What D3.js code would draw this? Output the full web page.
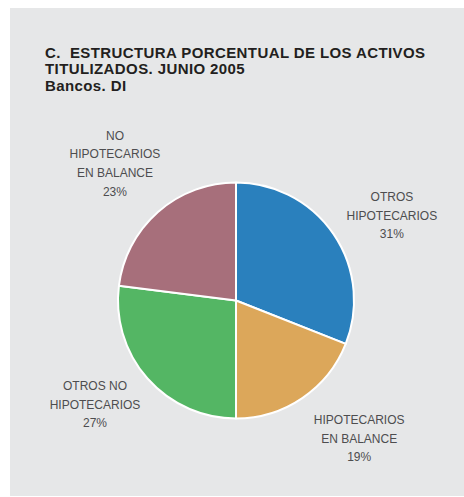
<!DOCTYPE html>
<html>
<head>
<meta charset="utf-8">
<script src="https://cdn.jsdelivr.net/npm/d3@7"></script>
<style>
  body { margin: 0; background: #fff; }
  svg { display: block; font-family: "Liberation Sans", Arial, sans-serif; }
</style>
</head>
<body>
<svg></svg>
<script>
const categories = ["OTROS HIPOTECARIOS", "HIPOTECARIOS EN BALANCE", "OTROS NO HIPOTECARIOS", "NO HIPOTECARIOS EN BALANCE"];
const labelLines = [
  ["OTROS", "HIPOTECARIOS"],
  ["HIPOTECARIOS", "EN BALANCE"],
  ["OTROS NO", "HIPOTECARIOS"],
  ["NO", "HIPOTECARIOS", "EN BALANCE"]
];
const values = [31, 19, 27, 23];
const colors = ["#2a80bd", "#dca75a", "#54b664", "#a76f7b"];
const titleLines = ["C.  ESTRUCTURA PORCENTUAL DE LOS ACTIVOS", "TITULIZADOS. JUNIO 2005", "Bancos. DI"];

const width = 464;
const height = 497;
const cx = 236, cy = 300.5;
const radius = 118;
const labelRadius = 180;
const lineHeight = 18.6;
// hand nudges so labels sit where the original placed them
const nudge = [[7, 16], [22, -11], [-6, -15], [-2, -2]];

const svg = d3.select("svg")
    .attr("width", width)
    .attr("height", height);

svg.append("rect")
    .attr("x", 10)
    .attr("y", 8)
    .attr("width", width - 10)
    .attr("height", height - 9)
    .attr("fill", "#e6e7e8");

svg.append("g")
    .selectAll("text")
    .data(titleLines)
    .enter()
    .append("text")
    .attr("x", 45)
    .attr("y", (d, i) => 57.5 + i * 16.6)
    .attr("font-size", 15)
    .attr("font-weight", "bold")
    .attr("letter-spacing", 0.4)
    .attr("fill", "#231f20")
    .style("white-space", "pre")
    .text(d => d);

const data = categories.map((c, i) => ({name: c, value: values[i], lines: labelLines[i], color: colors[i]}));

const pie = d3.pie()
    .sort(null)
    .value(d => d.value);

const arc = d3.arc()
    .innerRadius(0)
    .outerRadius(radius);

const labelArc = d3.arc()
    .innerRadius(labelRadius)
    .outerRadius(labelRadius);

const arcs = pie(data);

const g = svg.append("g")
    .attr("transform", `translate(${cx}, ${cy})`);

g.selectAll("path")
    .data(arcs)
    .enter()
    .append("path")
    .attr("d", arc)
    .attr("fill", d => d.data.color)
    .attr("stroke", "#fff")
    .attr("stroke-width", 2)
    .attr("stroke-linejoin", "round");

const labels = g.selectAll("g.label")
    .data(arcs)
    .enter()
    .append("g")
    .attr("class", "label")
    .attr("transform", (d, i) => {
      const [x, y] = labelArc.centroid(d);
      return `translate(${x + nudge[i][0]}, ${y + nudge[i][1]})`;
    });

labels.each(function(d) {
  const lines = d.data.lines.concat([d.data.value + "%"]);
  const top = -(lines.length - 1) * lineHeight / 2 + 4.3;
  d3.select(this).selectAll("text")
      .data(lines)
      .enter()
      .append("text")
      .attr("x", 0)
      .attr("y", (t, j) => top + j * lineHeight)
      .attr("text-anchor", "middle")
      .attr("font-size", 12)
      .attr("fill", "#4d4d4f")
      .text(t => t);
});
</script>
</body>
</html>
